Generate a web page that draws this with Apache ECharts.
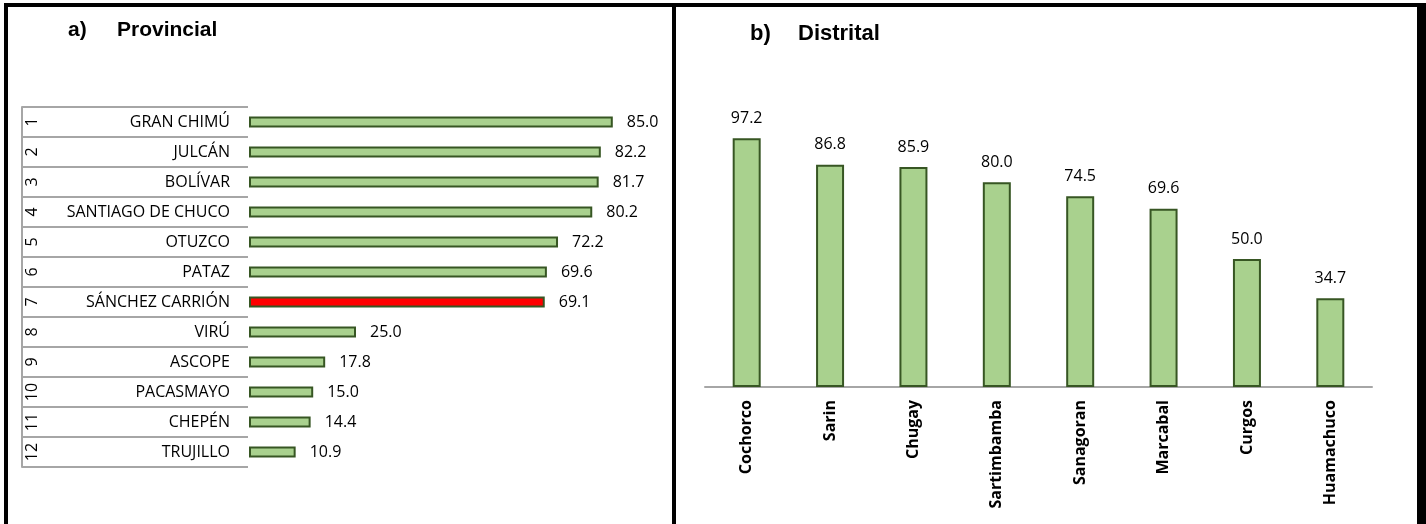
<!DOCTYPE html>
<html>
<head>
<meta charset="utf-8">
<script src="https://cdn.jsdelivr.net/npm/echarts@6/dist/echarts.min.js"></script>
<style>
html,body{margin:0;padding:0;background:#fff;}
#chart{width:1426px;height:524px;}
</style>
</head>
<body>
<div id="chart"></div>
<script>
// ---- data ----
const ranks = ['1','2','3','4','5','6','7','8','9','10','11','12'];
const provinces = ['GRAN CHIMÚ','JULCÁN','BOLÍVAR','SANTIAGO DE CHUCO','OTUZCO','PATAZ','SÁNCHEZ CARRIÓN','VIRÚ','ASCOPE','PACASMAYO','CHEPÉN','TRUJILLO'];
const provValues = [85.0,82.2,81.7,80.2,72.2,69.6,69.1,25.0,17.8,15.0,14.4,10.9];
const highlightProvince = 'SÁNCHEZ CARRIÓN';
const districts = ['Cochorco','Sarin','Chugay','Sartimbamba','Sanagoran','Marcabal','Curgos','Huamachuco'];
const distValues = [97.2,86.8,85.9,80.0,74.5,69.6,50.0,34.7];
const titles = {a: 'a)', aName: 'Provincial', b: 'b)', bName: 'Distrital'};

// ---- styles ----
const GREEN = '#a9d18e', BORDER = '#375623', RED = '#ff0000', GRID_GRAY = '#a6a6a6';
const FONT = '"Open Sans", "Noto Sans", sans-serif';
const TFONT = '"Liberation Sans", Arial, sans-serif';

const chart = echarts.init(document.getElementById('chart'), null, {renderer: 'canvas'});

const provData = provValues.map((v, i) => ({
  value: v,
  itemStyle: {color: provinces[i] === highlightProvince ? RED : GREEN}
}));

const option = {
  backgroundColor: '#fff',
  animation: false,
  title: [
    {text: titles.a, left: 63, top: 15, textStyle: {fontFamily: TFONT, fontWeight: 'bold', fontSize: 21, color: '#000'}},
    {text: titles.aName, left: 112, top: 15, textStyle: {fontFamily: TFONT, fontWeight: 'bold', fontSize: 21, color: '#000'}},
    {text: titles.b, left: 745, top: 18, textStyle: {fontFamily: TFONT, fontWeight: 'bold', fontSize: 22, color: '#000'}},
    {text: titles.bName, left: 793, top: 18, textStyle: {fontFamily: TFONT, fontWeight: 'bold', fontSize: 22, color: '#000'}}
  ],
  graphic: [
    {type: 'rect', shape: {x: 4, y: 3, width: 1422, height: 4}, style: {fill: '#000'}, silent: true},
    {type: 'rect', shape: {x: 4, y: 3, width: 4, height: 521}, style: {fill: '#000'}, silent: true},
    {type: 'rect', shape: {x: 672, y: 3, width: 4, height: 521}, style: {fill: '#000'}, silent: true},
    {type: 'rect', shape: {x: 1417, y: 3, width: 9, height: 521}, style: {fill: '#000'}, silent: true}
  ],
  grid: [
    {left: 22, top: 107, width: 226, height: 360, containLabel: false},
    {left: 249, top: 107, width: 428, height: 360, containLabel: false},
    {left: 705, top: 131, width: 667, height: 256, containLabel: false}
  ],
  xAxis: [
    {type: 'value', gridIndex: 0, min: 0, max: 100, show: false},
    {type: 'value', gridIndex: 1, min: 0, max: 100, show: false},
    {type: 'category', gridIndex: 2, data: districts,
      axisLine: {show: true, lineStyle: {color: GRID_GRAY, width: 2}},
      axisTick: {show: false},
      splitLine: {show: false},
      axisLabel: {rotate: 90, margin: 13, interval: 0, color: '#000', fontFamily: FONT, fontWeight: 'bold', fontSize: 16}
    }
  ],
  yAxis: [
    {type: 'category', gridIndex: 0, data: provinces, inverse: true, position: 'right',
      axisLine: {show: true, lineStyle: {color: GRID_GRAY, width: 2}},
      axisTick: {show: false},
      splitLine: {show: true, lineStyle: {color: GRID_GRAY, width: 2}},
      axisLabel: {inside: true, margin: 18, interval: 0, color: '#000', fontFamily: FONT, fontSize: 16}
    },
    {type: 'category', gridIndex: 0, data: ranks, inverse: true, position: 'left',
      axisLine: {show: false}, axisTick: {show: false}, splitLine: {show: false},
      axisLabel: {inside: true, rotate: 90, margin: 2, interval: 0, color: '#000', fontFamily: FONT, fontSize: 16}
    },
    {type: 'category', gridIndex: 1, data: provinces, inverse: true, show: false},
    {type: 'value', gridIndex: 2, min: 0, max: 100, show: false}
  ],
  series: [
    {type: 'bar', xAxisIndex: 1, yAxisIndex: 2, data: provData, barWidth: 11,
      itemStyle: {borderColor: BORDER, borderWidth: 2},
      label: {show: true, position: 'right', distance: 14, color: '#000', fontFamily: FONT, fontSize: 16,
        formatter: p => p.value.toFixed(1)}
    },
    {type: 'bar', xAxisIndex: 2, yAxisIndex: 3, data: distValues, barWidth: 28,
      itemStyle: {color: GREEN, borderColor: BORDER, borderWidth: 2},
      label: {show: true, position: 'top', distance: 12, color: '#000', fontFamily: FONT, fontSize: 16,
        formatter: p => p.value.toFixed(1)}
    }
  ]
};
chart.setOption(option);
</script>
</body>
</html>
